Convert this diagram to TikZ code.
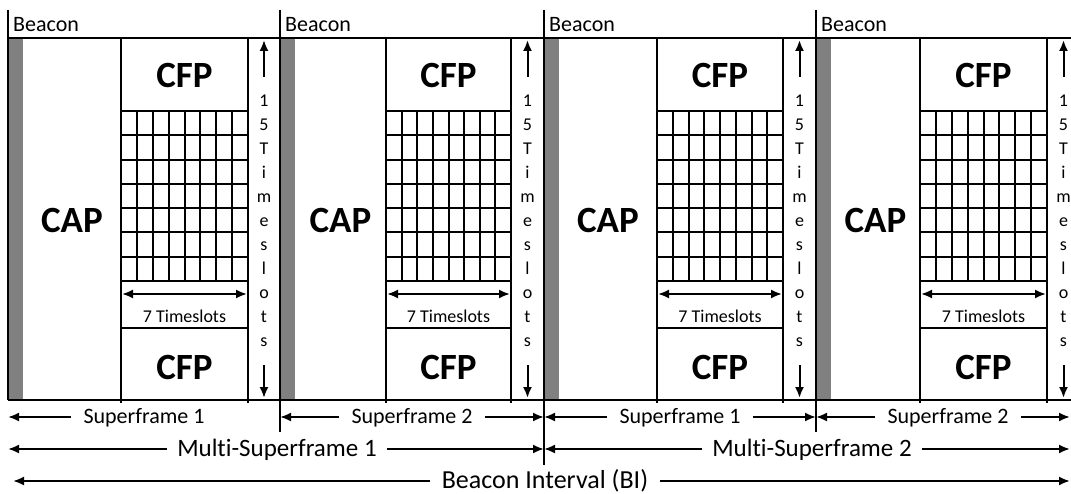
\documentclass[tikz,border=0pt]{standalone}
\usepackage{fontspec}
\setmainfont{Carlito}[Ligatures={NoCommon}]
\usetikzlibrary{arrows.meta, positioning}
\tikzstyle{frameline} = [draw, line width=2.2pt]
\tikzstyle{gridline} = [draw, line width=2pt]
\tikzstyle{beaconbar} = [fill=black!50]
\tikzstyle{period} = [inner sep=0pt, anchor=base, font=\fontsize{37}{40}\selectfont\bfseries]
\tikzstyle{slottext} = [inner sep=0pt, anchor=base, font=\fontsize{18}{20}\selectfont]
\tikzstyle{beacontext} = [inner sep=0pt, anchor=base west, font=\fontsize{22}{24}\selectfont]
\tikzstyle{spanlabel} = [inner ysep=0pt, inner xsep=12pt, text height=16pt, text depth=4pt,
    font=\fontsize{22}{24}\selectfont]
\tikzstyle{widelabel} = [inner ysep=0pt, inner xsep=10pt, text height=18pt, text depth=4pt,
    font=\fontsize{25}{28}\selectfont]
\tikzstyle{spanarrow} = [draw, line width=2pt]

\begin{document}
\begin{tikzpicture}[x=1pt, y=-1pt, >={Latex[length=11pt,width=9pt]}]
    \useasboundingbox (0,0) rectangle (1071,494);
    % We start by drawing the four superframes
    \foreach \n/\xl/\xa/\xb/\xr in {1/8/121/248/280, 2/280/386/511/544,
                                    3/544/657/783/816, 4/816/920/1047/1080} {
        \fill [beaconbar] (\xl,38) rectangle ({\xl+15},400);
        \draw [frameline] (\xl,10) -- (\xl,400);
        \draw [frameline] (\xa,38) -- (\xa,403);
        \draw [frameline] (\xb,38) -- (\xb,403);
        % grid of timeslots
        \foreach \k in {0,...,7}
            \draw [gridline] (\xa,{111+24.3*\k}) -- (\xb,{111+24.3*\k});
        \foreach \k in {1,...,7}
            \draw [gridline] ({\xa+(\xb-\xa)*\k/8},111) -- ({\xa+(\xb-\xa)*\k/8},281);
        \draw [gridline] (\xa,328) -- (\xb,328);
        \node [beacontext] (beacon\n) at ({\xl+5},32) {Beacon};
        \node [period] (cap\n) at ({(\xl+15+\xa)/2},233) {CAP};
        \node [period] (cfptop\n) at ({(\xa+\xb)/2},88) {CFP};
        \node [period] (cfpbot\n) at ({(\xa+\xb)/2},379) {CFP};
        \node [slottext] (slots\n) at ({(\xa+\xb)/2},323) {7 Timeslots};
        \foreach \c [count=\j] in {1,5,T,i,m,e,s,l,o,t,s}
            \node [slottext] (v\n-\j) at ({(\xb+\xr)/2},{107+23.9*(\j-1)}) {\c};
        \coordinate (tsl\n) at ({\xa+1},294);
        \coordinate (tsr\n) at ({\xb-1},294);
        \coordinate (uptail\n) at ({(\xb+\xr)/2},77);
        \coordinate (uptip\n) at ({(\xb+\xr)/2},40);
        \coordinate (dntail\n) at ({(\xb+\xr)/2},365);
        \coordinate (dntip\n) at ({(\xb+\xr)/2},398);
        \draw [spanarrow, <->] (tsl\n) -- (tsr\n);
        \draw [spanarrow, ->] (uptail\n) -- (uptip\n);
        \draw [spanarrow, ->] (dntail\n) -- (dntip\n);
    }
    \draw [frameline] (8,38) -- (1071,38);
    \draw [frameline] (8,400) -- (1071,400);
    % separators below the frames
    \draw [frameline] (280,400) -- (280,432);
    \draw [frameline] (544,400) -- (544,465);
    \draw [frameline] (816,400) -- (816,432);

    % Then the labels of the time spans
    \node [spanlabel] (sf1) at (144,417) {Superframe 1};
    \node [spanlabel] (sf2) at (412,417) {Superframe 2};
    \node [spanlabel] (sf3) at (680,417) {Superframe 1};
    \node [spanlabel] (sf4) at (948,417) {Superframe 2};
    \node [widelabel] (msf1) at (277,449) {Multi-Superframe 1};
    \node [widelabel] (msf2) at (812,449) {Multi-Superframe 2};
    \node [widelabel, inner xsep=12pt, font=\fontsize{26}{28}\selectfont] (bi) at (545,481)
        {Beacon Interval (BI)};
    \coordinate (s0) at (8,417);
    \coordinate (s1) at (280,417);
    \coordinate (s2) at (544,417);
    \coordinate (s3) at (816,417);
    \coordinate (s4) at (1070,417);
    \coordinate (m0) at (8,449);
    \coordinate (m1) at (544,449);
    \coordinate (m2) at (1070,449);
    \coordinate (b0) at (13,481);
    \coordinate (b1) at (1070,481);

    % and the arrows from the labels
    \draw [spanarrow, ->] (sf1) -- (s0);
    \draw [spanarrow, ->] (sf2) -- (s1);
    \draw [spanarrow, ->] (sf2) -- (s2);
    \draw [spanarrow, ->] (sf3) -- (s2);
    \draw [spanarrow, ->] (sf3) -- (s3);
    \draw [spanarrow, ->] (sf4) -- (s3);
    \draw [spanarrow, ->] (sf4) -- (s4);
    \draw [spanarrow, ->] (msf1) -- (m0);
    \draw [spanarrow, ->] (msf1) -- (m1);
    \draw [spanarrow, ->] (msf2) -- (m1);
    \draw [spanarrow, ->] (msf2) -- (m2);
    \draw [spanarrow, ->] (bi) -- (b0);
    \draw [spanarrow, ->] (bi) -- (b1);
\end{tikzpicture}
\end{document}
